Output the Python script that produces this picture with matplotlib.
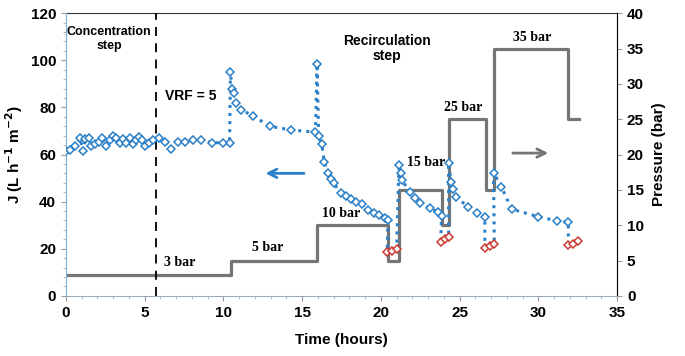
import matplotlib.pyplot as plt

# flux series in measurement order; is_red marks the red (low pressure) points
flux_t = [0.0, 0.3, 0.6, 0.9, 1.1, 1.25, 1.45, 1.6, 1.85, 2.1, 2.3, 2.55, 2.8, 3.0, 3.2,
          3.45, 3.65, 3.85, 4.05, 4.25, 4.45, 4.65, 4.85, 5.05, 5.3, 5.55, 5.9, 6.3, 6.7,
          7.1, 7.6, 8.1, 8.6, 9.3, 10.0, 10.4,
          10.45, 10.55, 10.65, 10.8, 11.15, 11.9, 12.95, 14.3, 15.85,
          15.95, 16.05, 16.25, 16.4, 16.65, 16.85, 17.0, 17.5, 17.8, 18.1, 18.45, 18.8,
          19.2, 19.55, 19.9, 20.25, 20.45,
          20.4, 20.7, 21.0,
          21.15, 21.25, 21.35, 21.85, 22.15, 22.5, 23.1, 23.6, 23.85,
          23.8, 24.05, 24.3,
          24.3, 24.45, 24.6, 24.8, 25.5, 26.1, 26.6,
          26.6, 26.9, 27.2,
          27.15, 27.65, 28.3, 30.0, 31.2, 31.9,
          31.9, 32.2, 32.5]
flux_j = [61.5, 62, 63.5, 67, 61.5, 66.5, 67, 63.5, 64.5, 65.5, 67, 63.5, 66, 68, 67,
          65, 66.5, 65, 67, 64.5, 66, 67.5, 66, 63.5, 65, 66, 67, 65.5, 62.5,
          65.5, 65.5, 66, 66, 65, 65, 65,
          95, 88, 86, 82, 79, 76.3, 72, 70.4, 69.5,
          98.5, 68, 64.5, 57, 52, 49.5, 47.8, 43.5, 42.4, 41, 40, 39,
          36.5, 35.2, 34.5, 33.2, 32.2,
          18.4, 19.1, 19.9,
          55.6, 52, 49, 44, 41.5, 39.3, 37.2, 35.6, 33.8,
          23, 24, 24.8,
          56.5, 48.5, 45.5, 42, 37.8, 35, 33.5,
          20.2, 21.2, 22,
          52.3, 46.3, 36.8, 33.6, 31.8, 31.2,
          21.6, 22, 23.3]
is_red = [0] * 62 + [1] * 3 + [0] * 9 + [1] * 3 + [0] * 7 + [1] * 3 + [0] * 6 + [1] * 3

# applied pressure steps
press_t = [0, 10.5, 15.95, 20.45, 21.15, 23.9, 24.3, 26.65, 27.2, 31.9, 32.6]
press_p = [3, 5, 10, 5, 15, 10, 25, 15, 35, 25, 25]
press_labels = ['3 bar', '5 bar', '10 bar', '15 bar', '25 bar', '35 bar']
press_label_t = [7.2, 12.8, 17.5, 22.9, 25.2, 29.6]
press_label_p = [4.7, 6.8, 11.7, 18.9, 26.6, 36.5]

blue = '#2b80c8'
red = '#cc3b33'
gray = '#757575'

plt.rcParams['font.family'] = ['Liberation Sans', 'DejaVu Sans']
fig = plt.figure(figsize=(6.85, 3.56), dpi=100)
ax = fig.add_axes([0.096, 0.169, 0.805, 0.794])
ax2 = ax.twinx()

ax2.plot(press_t, press_p, drawstyle='steps-post', color=gray, linewidth=2.3, zorder=1)
for lab, x, y in zip(press_labels, press_label_t, press_label_p):
    ax2.text(x, y, lab, ha='center', va='center', fontsize=10, fontweight='bold',
             family='Liberation Serif')
ax2.annotate('', xy=(30.8, 20.2), xytext=(28.2, 20.2),
             arrowprops=dict(arrowstyle='->', color=gray, lw=2, mutation_scale=15))

ax.set_zorder(ax2.get_zorder() + 1)
ax.patch.set_visible(False)
ax.plot(flux_t, flux_j, linestyle=':', color=blue, linewidth=2.2, zorder=2)
bt = [t for t, r in zip(flux_t, is_red) if not r]
bj = [j for j, r in zip(flux_j, is_red) if not r]
rt = [t for t, r in zip(flux_t, is_red) if r]
rj = [j for j, r in zip(flux_j, is_red) if r]
ax.plot(bt, bj, linestyle='none', marker='D', markersize=4.3, markerfacecolor='white',
        markeredgecolor=blue, markeredgewidth=1.1, zorder=3)
ax.plot(rt, rj, linestyle='none', marker='D', markersize=4.3, markerfacecolor='white',
        markeredgecolor=red, markeredgewidth=1.1, zorder=3)

ax.axvline(5.75, color='black', linestyle=(0, (5, 4)), linewidth=1.3)
ax.annotate('', xy=(12.5, 52), xytext=(15.3, 52),
            arrowprops=dict(arrowstyle='->', color=blue, lw=2, mutation_scale=15))

ax.text(2.75, 109, 'Concentration\nstep', ha='center', va='center', fontsize=9,
        fontweight='bold', linespacing=1.15)
ax.text(20.4, 105, 'Recirculation\nstep', ha='center', va='center', fontsize=10,
        fontweight='bold', linespacing=1.1)
ax.text(6.3, 85, 'VRF = 5', ha='left', va='center', fontsize=10, fontweight='bold')

ax.set_xlim(0, 35)
ax.set_ylim(0, 120)
ax2.set_ylim(0, 40)
ax.set_xticks(range(0, 36, 5))
ax.set_xticks(range(0, 36), minor=True)
ax.set_yticks(range(0, 121, 20))
ax.set_yticks(range(0, 121, 4), minor=True)
ax2.set_yticks(range(0, 41, 5))

for a in (ax, ax2):
    a.tick_params(labelsize=11, width=0.8, colors='#999999', labelcolor='black')
    a.tick_params(which='minor', length=2, colors='#aaaaaa')
    for lab in a.get_xticklabels() + a.get_yticklabels():
        lab.set_fontweight('bold')

ax.spines['left'].set_color('#7fb3e0')
ax.spines['bottom'].set_color('#9aaab8')
ax2.spines['right'].set_color('#9a9a9a')
ax2.spines['top'].set_color('#333333')
ax.spines['top'].set_visible(False)
ax2.spines['left'].set_visible(False)
ax2.spines['bottom'].set_visible(False)

ax.set_xlabel('Time (hours)', fontsize=11, fontweight='bold', labelpad=10)
ax.set_ylabel('J (L h$^{\\mathbf{-1}}$ m$^{\\mathbf{-2}}$)', fontsize=11, fontweight='bold')
ax2.set_ylabel('Pressure (bar)', fontsize=11, fontweight='bold', rotation=90, labelpad=6)

fig.savefig('out.png', dpi=100)
